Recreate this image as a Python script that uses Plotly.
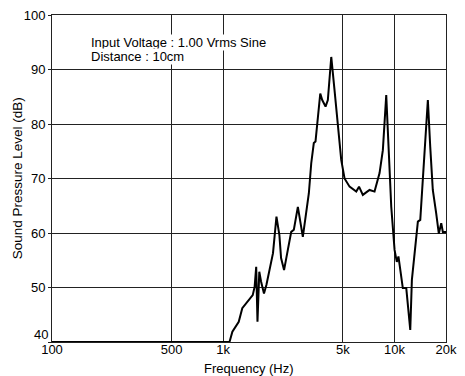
import plotly.graph_objects as go

freq_hz = [100, 500, 1000, 1088, 1131, 1190, 1232, 1292, 1394, 1487, 1525, 1558, 1585, 1624, 1663,
           1730, 1788, 1860, 1906, 1953, 2046, 2128, 2177, 2266, 2384, 2495, 2585, 2728, 2917,
           3119, 3163, 3266, 3381, 3459, 3569, 3687, 3786, 3959, 4083, 4275, 4467, 4670, 4888,
           5111, 5468, 5983, 6210, 6536, 7155, 7650, 8185, 8555, 8954, 9275, 9580, 10015,
           10320, 10550, 10956, 11190, 11720, 12370, 12640, 13210, 13700, 14150, 14660, 15200,
           15670, 16180, 16750, 17530, 18160, 18760, 19170, 20000]
spl_db = [40, 40, 40, 40, 41.9, 43.1, 43.7, 46.2, 47.4, 48.6, 50.1, 53.8, 43.7, 52.9, 51.1,
          48.9, 50.5, 52.9, 55.0, 56.3, 63.0, 59.6, 55.4, 53.2, 56.9, 60.2, 60.6, 64.8, 59.3,
          66.1, 67.3, 72.8, 76.5, 76.8, 80.7, 85.6, 84.4, 83.2, 84.4, 92.3, 86.2, 80.1, 73.4,
          70.0, 68.5, 67.6, 68.5, 67.0, 67.9, 67.6, 71.0, 75.2, 85.3, 74.6, 64.8, 56.9,
          54.7, 55.7, 52.0, 49.9, 49.9, 42.2, 51.4, 58.1, 62.1, 62.4, 69.7, 78.3,
          84.4, 75.8, 67.9, 63.6, 59.9, 61.8, 60.2, 60.2]

x_tick_vals = [100, 500, 1000, 5000, 10000, 20000]
x_tick_text = ["100", "500", "1k", "5k", "10k", "20k"]
y_tick_vals = [40, 50, 60, 70, 80, 90, 100]
y_tick_text = ["", "50", "60", "70", "80", "90", "100"]
y_bottom_label = "40"

notes = ["Input Voltage : 1.00 Vrms Sine", "Distance : 10cm"]

font = "Liberation Sans, Arial, sans-serif"

fig = go.Figure()
fig.add_trace(go.Scatter(x=freq_hz, y=spl_db, mode="lines",
                         line=dict(color="black", width=2), showlegend=False))

fig.update_layout(
    width=457, height=368,
    margin=dict(l=44, r=19, t=7, b=34),
    paper_bgcolor="white", plot_bgcolor="white",
    font=dict(family=font, size=12, color="black"),
    xaxis=dict(type="log", range=[2, 4.30103], tickvals=x_tick_vals, ticktext=x_tick_text,
               showgrid=True, gridcolor="#222", gridwidth=1, showline=True, linecolor="#222",
               linewidth=1, mirror=True, ticks="", zeroline=False, automargin=False,
               tickfont=dict(size=13), ticklabelstandoff=-5, ticklabeloverflow="allow"),
    yaxis=dict(range=[40, 100], tickvals=y_tick_vals, ticktext=y_tick_text, showgrid=True,
               gridcolor="#222", gridwidth=1, showline=True, linecolor="#222", linewidth=1,
               mirror=True, ticks="outside", ticklen=3, tickcolor="#222", zeroline=False,
               automargin=False, tickfont=dict(size=13), ticklabeloverflow="allow"),
    annotations=[
        dict(x=(90 - 52) / 394, y=0.915, xref="paper", yref="paper", text=notes[0], showarrow=False,
             xanchor="left", yanchor="middle", font=dict(size=13), bgcolor="white", borderpad=0),
        dict(x=(90 - 52) / 394, y=0.872, xref="paper", yref="paper", text=notes[1], showarrow=False,
             xanchor="left", yanchor="middle", font=dict(size=13), bgcolor="white", borderpad=0),
        dict(x=0, y=y_tick_vals[0], xref="paper", yref="y", text=y_bottom_label, showarrow=False,
             xanchor="right", yanchor="bottom", xshift=-3, yshift=-1, font=dict(size=13),
             borderpad=0),
        dict(x=0.5, y=-0.052, xref="paper", yref="paper", text="Frequency (Hz)", showarrow=False,
             xanchor="center", yanchor="top", font=dict(size=13)),
        dict(x=-0.087, y=0.5, xref="paper", yref="paper", text="Sound Pressure Level (dB)",
             showarrow=False, textangle=-90, xanchor="center", yanchor="middle", font=dict(size=13.5)),
    ],
)

fig.write_html("out.html")
